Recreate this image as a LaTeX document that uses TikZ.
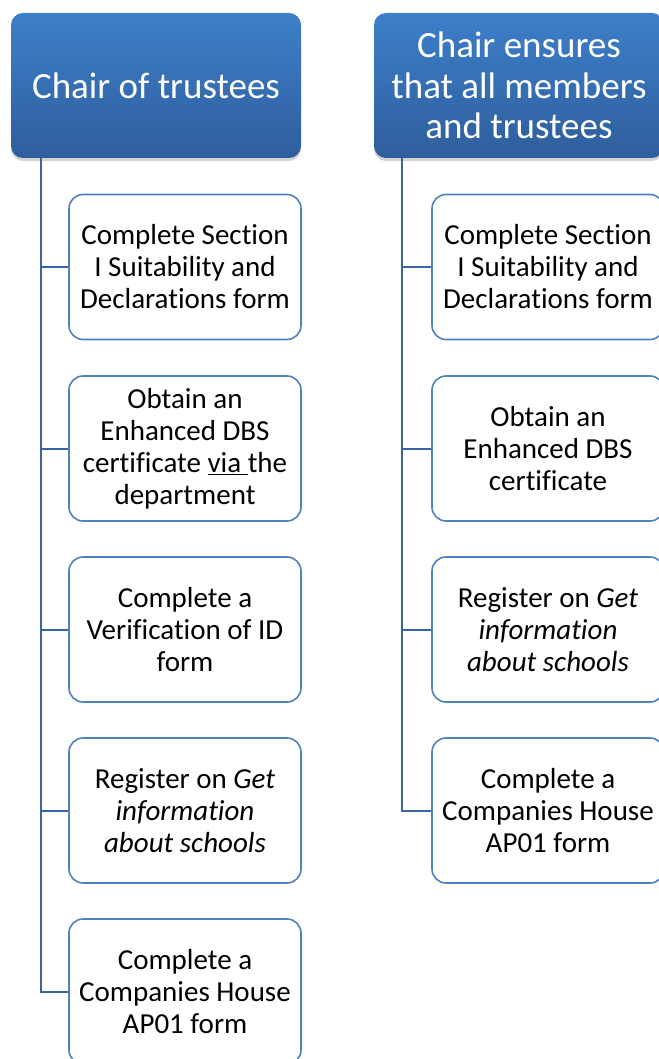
\documentclass[tikz,border=0pt]{standalone}
\usepackage{fontspec}
\setmainfont{Carlito}[Ligatures=CommonOff]
\usetikzlibrary{shadows,calc}
\definecolor{hdtop}{RGB}{61,127,202}
\definecolor{hdbot}{RGB}{47,94,156}
\definecolor{boxline}{RGB}{79,129,189}
\definecolor{connline}{RGB}{58,100,162}
\tikzset{
  header/.style={rounded corners=12pt, minimum width=290pt, minimum height=145pt,
    top color=hdtop, bottom color=hdbot, draw=none, text=white, align=center,
    inner sep=0pt, font=\fontsize{37}{40.7}\selectfont,
    drop shadow={opacity=0.35, shadow xshift=0pt, shadow yshift=-3pt}},
  stepbox/.style={rounded corners=14pt, minimum width=232pt, minimum height=145pt,
    draw=boxline, line width=1.6pt, fill=white, align=center, inner sep=0pt,
    font=\fontsize{29}{32}\selectfont},
  conn/.style={draw=connline, line width=2pt}
}
\begin{document}
\begin{tikzpicture}[x=1pt,y=-1pt]
\useasboundingbox (0,0) rectangle (658,1059);
% left column
\node[header] (h1) at (156,85.5) {Chair of trustees};
\node[stepbox] (a1) at (185,267) {Complete Section\\I Suitability and\\Declarations form};
\node[stepbox] (a2) at (185,448.5) {Obtain an\\Enhanced DBS\\certificate \underline{via~}the\\department};
\node[stepbox] (a3) at (185,629.5) {Complete a\\Verification of ID\\form};
\node[stepbox] (a4) at (185,810.5) {Register on \textit{Get}\\\textit{information}\\\textit{about schools}};
\node[stepbox] (a5) at (185,991.5) {Complete a\\Companies House\\AP01 form};
% right column
\node[header] (h2) at (519,85.5) {Chair ensures\\that all members\\and trustees};
\node[stepbox] (b1) at (548,267) {Complete Section\\I Suitability and\\Declarations form};
\node[stepbox] (b2) at (548,448.5) {Obtain an\\Enhanced DBS\\certificate};
\node[stepbox] (b3) at (548,629.5) {Register on \textit{Get}\\\textit{information}\\\textit{about schools}};
\node[stepbox] (b4) at (548,810.5) {Complete a\\Companies House\\AP01 form};
% connectors
\coordinate (t1) at ($(h1.south west)+(30,0)$);
\coordinate (t2) at ($(h2.south west)+(28,0)$);
\foreach \n in {a1,a2,a3,a4,a5} {\draw[conn] (t1) |- (\n.west);}
\foreach \n in {b1,b2,b3,b4} {\draw[conn] (t2) |- (\n.west);}
\end{tikzpicture}
\end{document}
